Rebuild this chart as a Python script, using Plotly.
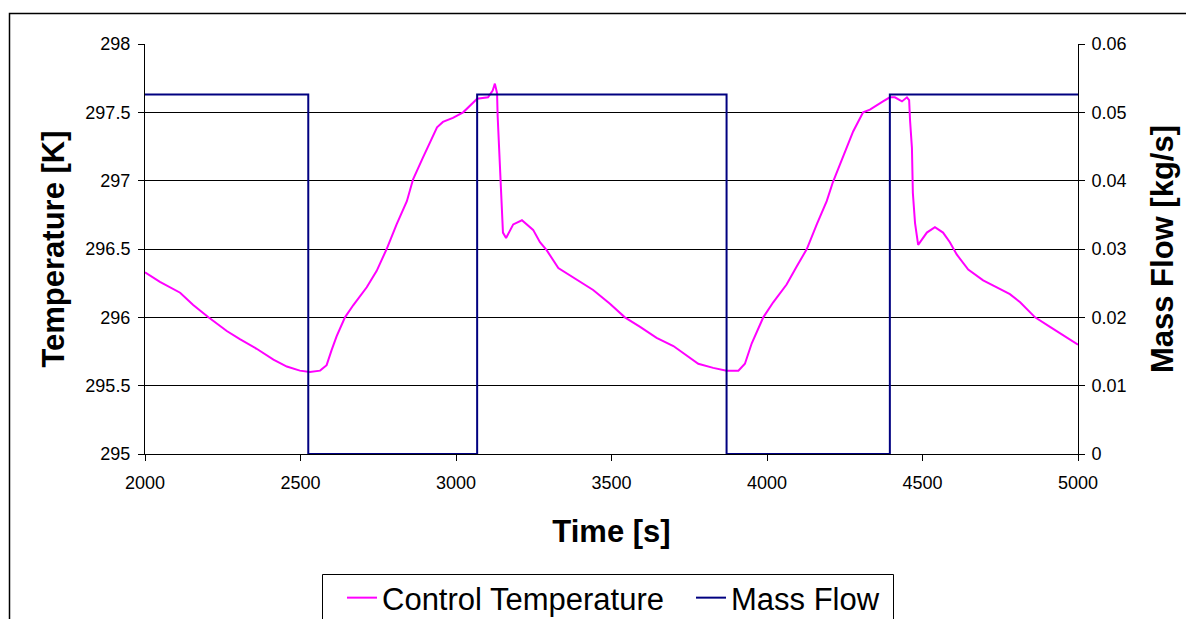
import plotly.graph_objects as go

# Control temperature (time [s], temperature [K])
temp_time = [2000, 2048, 2113, 2155, 2204, 2263, 2305, 2359, 2413, 2456, 2498, 2530, 2563, 2584,
             2600, 2616, 2643, 2670, 2713, 2745, 2777, 2809, 2842, 2862, 2894, 2939, 2958, 2990,
             3023, 3068, 3103, 3118, 3125, 3132, 3134, 3141, 3148, 3151, 3161, 3184, 3212, 3248,
             3270, 3292, 3329, 3377, 3441, 3495, 3543, 3592, 3645, 3699, 3742, 3779, 3827, 3870,
             3908, 3929, 3951, 3988, 4020, 4063, 4095, 4128, 4160, 4192, 4212, 4245, 4277, 4309,
             4331, 4373, 4395, 4411, 4434, 4450, 4457, 4460, 4466, 4469, 4476, 4486, 4514, 4540,
             4566, 4588, 4610, 4647, 4695, 4739, 4781, 4814, 4862, 4910, 4964, 5000]
temp_vals = [296.33, 296.26, 296.18, 296.09, 296.00, 295.90, 295.84, 295.77, 295.69, 295.64, 295.61,
             295.60, 295.61, 295.65, 295.76, 295.86, 296.00, 296.09, 296.22, 296.34, 296.50, 296.68,
             296.85, 297.01, 297.17, 297.39, 297.43, 297.46, 297.50, 297.60, 297.61, 297.66, 297.71,
             297.64, 297.47, 297.15, 296.84, 296.62, 296.58, 296.68, 296.71, 296.64, 296.55, 296.49,
             296.36, 296.29, 296.20, 296.10, 296.00, 295.93, 295.85, 295.79, 295.72, 295.66, 295.63,
             295.61, 295.61, 295.66, 295.81, 296.00, 296.11, 296.24, 296.37, 296.50, 296.68, 296.85,
             296.99, 297.18, 297.36, 297.50, 297.52, 297.58, 297.61, 297.61, 297.58, 297.61, 297.59,
             297.44, 297.24, 296.91, 296.69, 296.53, 296.62, 296.66, 296.62, 296.55, 296.46, 296.35,
             296.27, 296.22, 296.17, 296.11, 296.00, 295.93, 295.85, 295.80]

# Mass flow step signal (time [s], kg/s)
flow_time = [2000, 2525, 3068, 3870, 4395, 5000]
flow_vals = [0.0526, 0.0, 0.0526, 0.0, 0.0526, 0.0526]

x_ticks = [2000, 2500, 3000, 3500, 4000, 4500, 5000]
y_ticks = [295, 295.5, 296, 296.5, 297, 297.5, 298]
y2_ticks = [0, 0.01, 0.02, 0.03, 0.04, 0.05, 0.06]

FONT = "Liberation Sans, Arial, sans-serif"

fig = go.Figure()
fig.add_trace(go.Scatter(x=temp_time, y=temp_vals, mode="lines", name="Control Temperature",
                         line=dict(color="#FF00FF", width=2)))
fig.add_trace(go.Scatter(x=flow_time, y=flow_vals, mode="lines", name="Mass Flow",
                         line=dict(color="#000080", width=2, shape="hv"), yaxis="y2"))

OFF = 8  # default page body margin
W, H = 1194 - OFF, 619 - OFF
L, R, T, B = 145 - OFF, 1078 - OFF, 44 - OFF, 454 - OFF
pw, ph = R - L, B - T

def px(x):
    return (x - OFF - L) / pw

def py(y):
    return (B - (y - OFF)) / ph

fig.update_layout(
    width=W, height=H,
    margin=dict(l=L, r=W - R, t=T, b=H - B, autoexpand=False),
    paper_bgcolor="white", plot_bgcolor="white",
    font=dict(family=FONT, color="black", size=18),
    showlegend=True,
    legend=dict(orientation="h", x=px(342), y=py(571), xanchor="left", yanchor="top",
                borderwidth=0, bgcolor="rgba(0,0,0,0)", font=dict(size=31),
                itemwidth=30, tracegroupgap=0,
                entrywidth=304, entrywidthmode="pixels"),
    xaxis=dict(range=[2000, 5000], tickvals=x_ticks, ticktext=[str(v) for v in x_ticks],
               showgrid=False, zeroline=False, showline=True, linecolor="black", linewidth=1,
               ticks="outside", ticklen=6, tickcolor="black", tickfont=dict(size=18),
               ticklabelstandoff=6,
               title=dict(text="<b>Time [s]</b>", font=dict(size=31), standoff=28)),
    yaxis=dict(range=[295, 298], tickvals=y_ticks, ticktext=["295", "295.5", "296", "296.5", "297", "297.5", "298"],
               showgrid=True, gridcolor="black", gridwidth=1, zeroline=False,
               showline=True, linecolor="black", linewidth=1,
               ticks="outside", ticklen=6, tickcolor="black", tickfont=dict(size=18),
               ticklabelstandoff=4,
               title=dict(text="<b>Temperature [K]</b>", font=dict(size=31), standoff=11)),
    yaxis2=dict(range=[0, 0.06], tickvals=y2_ticks, ticktext=["0", "0.01", "0.02", "0.03", "0.04", "0.05", "0.06"],
                overlaying="y", side="right", showgrid=False, zeroline=False,
                showline=True, linecolor="black", linewidth=1,
                ticks="outside", ticklen=6, tickcolor="black", tickfont=dict(size=18),
                ticklabelstandoff=3,
                title=dict(text="<b>Mass Flow [kg/s]</b>", font=dict(size=31), standoff=25)),
)

# outer chart-area border (clipped by the page at right/bottom)
fig.add_shape(type="rect", xref="paper", yref="paper",
              x0=px(9.5), x1=px(1220), y0=py(13.5), y1=py(650),
              line=dict(color="black", width=1.5), fillcolor="rgba(0,0,0,0)", layer="below")
# legend frame
fig.add_shape(type="rect", xref="paper", yref="paper",
              x0=px(322.5), x1=px(893.5), y0=py(574.5), y1=py(640),
              line=dict(color="black", width=1), fillcolor="rgba(0,0,0,0)", layer="below")

fig.write_html("out.html")
